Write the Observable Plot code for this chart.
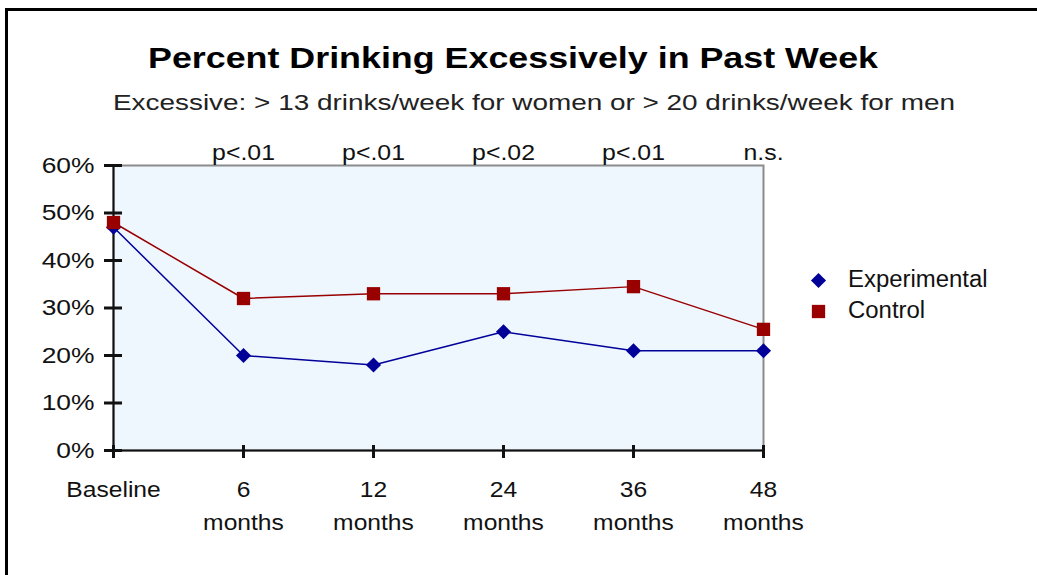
<!DOCTYPE html>
<html>
<head>
<meta charset="utf-8">
<script src="https://cdn.jsdelivr.net/npm/d3@7"></script>
<script src="https://cdn.jsdelivr.net/npm/@observablehq/plot@0.6"></script>
<style>
  html, body { margin: 0; padding: 0; background: #fff; }
  #wrap { position: relative; width: 1037px; height: 575px; overflow: hidden; background: #fff; font-family: "Liberation Sans", Arial, sans-serif; color: #111; }
  .bt { position: absolute; left: 5px; top: 8px; width: 1032px; height: 3px; background: #000; }
  .bl { position: absolute; left: 5px; top: 8px; width: 3px; height: 567px; background: #000; }
  .head { position: absolute; white-space: nowrap; transform-origin: 0 50%; }
  #title { top: 40px; font-weight: bold; font-size: 29px; line-height: 36px; color: #000; }
  #subtitle { top: 90px; font-size: 22px; line-height: 26px; color: #222; }
  #chart { position: absolute; left: 0; top: 130px; }
  #legend { position: absolute; left: 806px; top: 264px; font-size: 23px; color: #111; }
  #legend .row { display: flex; align-items: center; height: 31px; }
</style>
</head>
<body>
<div id="wrap">
  <div class="bt"></div>
  <div class="bl"></div>
  <div id="title" class="head">Percent Drinking Excessively in Past Week</div>
  <div id="subtitle" class="head">Excessive: &gt; 13 drinks/week for women or &gt; 20 drinks/week for men</div>
  <div id="chart"></div>
  <div id="legend"></div>
</div>
<script>
const categories = ["Baseline", "6 months", "12 months", "24 months", "36 months", "48 months"];
const experimental = [0.47, 0.20, 0.18, 0.25, 0.21, 0.21];
const control = [0.48, 0.32, 0.33, 0.33, 0.345, 0.255];
const pLabels = ["", "p<.01", "p<.01", "p<.02", "p<.01", "n.s."];
const yTicks = [0, 0.1, 0.2, 0.3, 0.4, 0.5, 0.6];
const seriesNames = ["Experimental", "Control"];
const colors = {Experimental: "#000099", Control: "#990000"};

const rows = [];
categories.forEach((c, i) => {
  rows.push({cat: c, series: "Experimental", value: experimental[i]});
  rows.push({cat: c, series: "Control", value: control[i]});
});
const expRows = rows.filter(d => d.series === "Experimental");
const ctlRows = rows.filter(d => d.series === "Control");

const xLabel = c => c === "Baseline" ? "Baseline" : c.replace(" ", "\n");

const chart = Plot.plot({
  width: 1037,
  height: 445,
  marginTop: 35,
  marginLeft: 113,
  marginRight: 274,
  marginBottom: 125,
  style: {fontFamily: "'Liberation Sans', Arial, sans-serif", fontSize: "22px", color: "#111", background: "transparent", overflow: "visible"},
  x: {type: "point", domain: categories, padding: 0},
  y: {domain: [0, 0.6]},
  marks: [
    Plot.frame({fill: "#eef6fe", stroke: "#8c8c8c", strokeWidth: 2}),
    Plot.ruleX([categories[0]], {stroke: "#111", strokeWidth: 2}),
    Plot.ruleY([0], {stroke: "#111", strokeWidth: 2}),
    Plot.axisY({ticks: yTicks, tickFormat: d => Math.round(d * 100) + "%", tickSize: 18, dx: 9, tickPadding: 10, strokeWidth: 3, label: null, fontSize: 22}),
    Plot.axisX({tickSize: 13, dy: -5, tickPadding: 15, strokeWidth: 3, tickFormat: xLabel, lineHeight: 1.5, label: null, fontSize: 22}),
    Plot.line(ctlRows, {x: "cat", y: "value", stroke: colors.Control, strokeWidth: 1.5}),
    Plot.line(expRows, {x: "cat", y: "value", stroke: colors.Experimental, strokeWidth: 1.5}),
    Plot.dot(expRows, {x: "cat", y: "value", symbol: "diamond2", r: 6.8, fill: colors.Experimental, stroke: null}),
    Plot.dot(ctlRows, {x: "cat", y: "value", symbol: "square", r: 7.5, fill: colors.Control, stroke: null}),
    Plot.text(categories, {x: d => d, text: (d, i) => pLabels[i], frameAnchor: "top", lineAnchor: "middle", dy: -13, fontSize: 22})
  ]
});
document.getElementById("chart").appendChild(chart);

// widen glyphs horizontally to mimic the reference's wide bitmap lettering
function widen(selector, s) {
  chart.querySelectorAll(selector).forEach(t => {
    const tr = t.getAttribute("transform") || "";
    t.setAttribute("transform", (tr + ` scale(${s},1)`).trim());
  });
}
widen('g[aria-label="y-axis tick label"] text', 1.2);
widen('g[aria-label="x-axis tick label"] text', 1.12);
widen('g[aria-label="text"] text', 1.13);

// fit title and subtitle to the reference's spans
function fitHead(id, left, right) {
  const el = document.getElementById(id);
  const w = el.getBoundingClientRect().width;
  el.style.left = left + "px";
  el.style.transform = `scaleX(${(right - left) / w})`;
}
fitHead("title", 148, 878);
fitHead("subtitle", 113, 955);

// legend
const legend = document.getElementById("legend");
const sym = {Experimental: "diamond2", Control: "square"};
seriesNames.forEach(name => {
  const row = document.createElement("div");
  row.className = "row";
  const s = Plot.plot({
    width: 24, height: 24, margin: 0, axis: null,
    x: {domain: [0, 1]}, y: {domain: [0, 1]},
    style: {background: "transparent"},
    marks: [Plot.dot([0], {x: 0.5, y: 0.5, symbol: sym[name], r: name === "Control" ? 7.5 : 6.8, fill: colors[name]})]
  });
  s.style.marginRight = "18px";
  row.appendChild(s);
  const t = document.createElement("span");
  t.textContent = name;
  t.style.display = "inline-block";
  t.style.transform = "scaleX(1.04)";
  t.style.transformOrigin = "0 50%";
  row.appendChild(t);
  legend.appendChild(row);
});
</script>
</body>
</html>
